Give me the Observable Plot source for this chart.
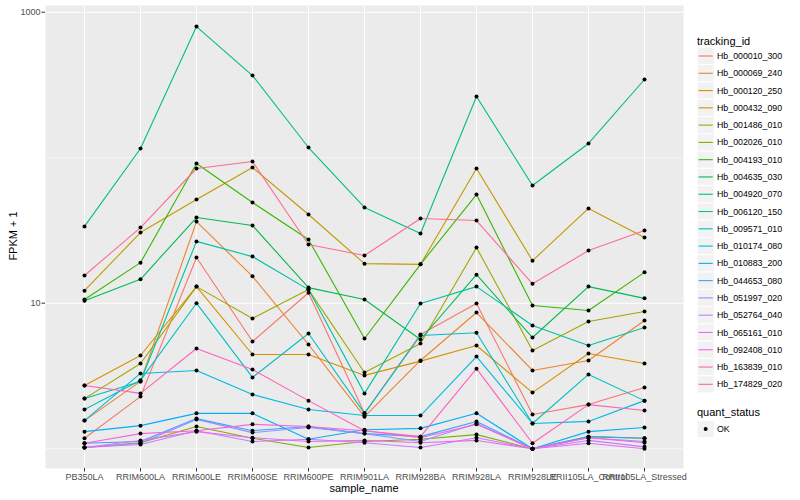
<!DOCTYPE html>
<html><head><meta charset="utf-8">
<script src="https://cdn.jsdelivr.net/npm/d3@7"></script>
<script src="https://cdn.jsdelivr.net/npm/@observablehq/plot@0.6"></script>
<style>
body{margin:0;background:#fff;font-family:"Liberation Sans",Arial,Helvetica,sans-serif;}
#wrap{position:relative;width:800px;height:500px;overflow:hidden;background:#fff;}
#chart{position:absolute;left:0;top:0;}
#legend{position:absolute;left:690px;top:0;}
.ttl{position:absolute;font-size:11px;line-height:12px;color:#000;white-space:nowrap;}
</style></head><body>
<div id="wrap">
  <div id="chart"></div>
  <svg id="legend" width="110" height="500"></svg>
  <div class="ttl" id="xt" style="left:364px;top:482px;transform:translateX(-50%);">sample_name</div>
  <div class="ttl" id="yt" style="left:13px;top:236px;transform:translate(-50%,-50%) rotate(-90deg);">FPKM + 1</div>
</div>
<script>
const samples = ["PB350LA","RRIM600LA","RRIM600LE","RRIM600SE","RRIM600PE","RRIM901LA","RRIM928BA","RRIM928LA","RRIM928LE","RRII105LA_Control","RRII105LA_Stressed"];
const trackingIds = ["Hb_000010_300","Hb_000069_240","Hb_000120_250","Hb_000432_090","Hb_001486_010","Hb_002026_010","Hb_004193_010","Hb_004635_030","Hb_004920_070","Hb_006120_150","Hb_009571_010","Hb_010174_080","Hb_010883_200","Hb_044653_080","Hb_051997_020","Hb_052764_040","Hb_065161_010","Hb_092408_010","Hb_163839_010","Hb_174829_020"];
const palette = ["#F8766D","#EA8331","#D89000","#C09B00","#A3A500","#7CAE00","#39B600","#00BB4E","#00BF7D","#00C1A3","#00BFC4","#00BAE0","#00B0F6","#35A2FF","#9590FF","#C77CFF","#E76BF3","#FA62DB","#FF62BC","#FF6C91"];
const quantStatus = ["OK"];

// FPKM + 1 values, one array per tracking_id, in sample order
const hb_000010_300 = [1.18, 2.28, 20.6, 5.45, 11.8, 1.75, 6.10, 9.95, 1.72, 2.01, 2.63];
const hb_000069_240 = [1.56, 2.90, 36.4, 15.3, 5.20, 1.66, 4.04, 8.63, 3.45, 4.04, 7.60];
const hb_000120_250 = [2.72, 4.37, 13.0, 4.44, 4.44, 3.19, 4.00, 5.12, 2.43, 4.51, 3.85];
const hb_000432_090 = [12.2, 30.6, 51.6, 85.6, 40.7, 18.7, 18.5, 84.3, 19.6, 44.8, 28.3];
const hb_001486_010 = [2.21, 3.85, 13.0, 7.85, 12.4, 3.34, 5.28, 24.1, 4.73, 7.48, 8.77];
const hb_002026_010 = [1.02, 1.10, 1.42, 1.18, 1.02, 1.12, 1.16, 1.25, 1.00, 1.21, 1.18];
const hb_004193_010 = [10.6, 19.0, 91.2, 49.2, 27.4, 5.72, 18.5, 55.8, 9.64, 8.91, 16.3];
const hb_004635_030 = [10.4, 14.6, 38.8, 34.2, 12.8, 10.6, 5.63, 15.7, 5.81, 13.0, 10.8];
const hb_004920_070 = [33.7, 115.7, 797, 367, 117.5, 45.5, 30.1, 263.5, 64.4, 125.3, 344.7];
const hb_006120_150 = [2.21, 2.90, 26.6, 20.9, 12.4, 2.40, 9.95, 13.0, 7.03, 5.12, 6.81];
const hb_009571_010 = [1.86, 2.95, 10.0, 3.09, 6.19, 1.75, 6.00, 6.26, 1.49, 3.24, 2.14];
const hb_010174_080 = [1.56, 3.29, 3.45, 2.36, 1.86, 1.69, 1.69, 4.30, 1.49, 1.54, 2.14];
const hb_010883_200 = [1.31, 1.44, 1.75, 1.75, 1.16, 1.35, 1.38, 1.75, 1.00, 1.31, 1.40];
const hb_044653_080 = [1.09, 1.12, 1.61, 1.33, 1.42, 1.27, 1.21, 1.54, 1.00, 1.21, 1.18];
const hb_051997_020 = [1.02, 1.09, 1.59, 1.29, 1.40, 1.27, 1.12, 1.49, 1.00, 1.19, 1.12];
const hb_052764_040 = [1.02, 1.07, 1.33, 1.12, 1.16, 1.10, 1.02, 1.19, 1.00, 1.14, 1.03];
const hb_065161_010 = [1.02, 1.14, 1.31, 1.19, 1.12, 1.14, 1.10, 1.14, 1.00, 1.09, 1.00];
const hb_092408_010 = [1.09, 1.27, 1.33, 1.47, 1.42, 1.33, 1.19, 1.47, 1.00, 1.19, 1.10];
const hb_163839_010 = [2.72, 2.40, 4.88, 3.50, 2.14, 1.33, 1.21, 3.55, 1.09, 2.01, 1.83];
const hb_174829_020 = [15.5, 33.1, 84.3, 94.2, 25.3, 21.3, 38.2, 37.0, 13.6, 23.0, 31.6];

const seriesValues = [hb_000010_300, hb_000069_240, hb_000120_250, hb_000432_090, hb_001486_010,
  hb_002026_010, hb_004193_010, hb_004635_030, hb_004920_070, hb_006120_150, hb_009571_010,
  hb_010174_080, hb_010883_200, hb_044653_080, hb_051997_020, hb_052764_040, hb_065161_010,
  hb_092408_010, hb_163839_010, hb_174829_020];

const rows = [];
trackingIds.forEach((id, i) => seriesValues[i].forEach((v, j) =>
  rows.push({tracking_id: id, sample_name: samples[j], fpkm1: v, quant_status: quantStatus[0]})));

const chart = Plot.plot({
  width: 690, height: 500,
  marginTop: 5, marginBottom: 32, marginLeft: 45, marginRight: 7,
  style: {fontFamily: '"Liberation Sans",Arial,Helvetica,sans-serif', fontSize: "8.8px", background: "transparent", overflow: "visible"},
  x: {type: "point", domain: samples, padding: 0.6, label: null},
  y: {type: "log", domain: [0.731, 1112], label: null},
  color: {domain: trackingIds, range: palette},
  marks: [
    Plot.frame({fill: "#ebebeb", stroke: "none"}),
    Plot.ruleY([1, 100], {stroke: "#ffffff", strokeWidth: 0.55}),
    Plot.ruleY([10, 1000], {stroke: "#ffffff", strokeWidth: 1.1}),
    Plot.ruleX(samples, {stroke: "#ffffff", strokeWidth: 1.1}),
    Plot.axisX({tickSize: 3.5, tickPadding: 1.2, stroke: "#333333", fill: "#4d4d4d", fontSize: 9, label: null}),
    Plot.axisY({ticks: [10, 1000], tickFormat: d => String(d), tickSize: 3.5, tickPadding: 1.5, stroke: "#333333", fill: "#4d4d4d", fontSize: 9, label: null}),
    Plot.line(rows, {x: "sample_name", y: "fpkm1", z: "tracking_id", stroke: "tracking_id", strokeWidth: 1.1}),
    Plot.dot(rows, {x: "sample_name", y: "fpkm1", r: 2, fill: "black", stroke: "none"})
  ]
});
document.getElementById("chart").appendChild(chart);

// Legend
const lg = d3.select("#legend");
const ff = '"Liberation Sans",Arial,Helvetica,sans-serif';
lg.append("text").attr("x", 7).attr("y", 41).attr("dy", "0.35em")
  .attr("font-family", ff).attr("font-size", 11).text("tracking_id");
const keyH = 17.28, firstC = 56;
trackingIds.forEach((id, i) => {
  const cy = firstC + i * keyH;
  lg.append("rect").attr("x", 7).attr("y", cy - keyH / 2).attr("width", keyH).attr("height", keyH)
    .attr("fill", "#f2f2f2").attr("stroke", "#ffffff").attr("stroke-width", 1);
  lg.append("line").attr("x1", 8.5).attr("x2", 7 + keyH - 1.5).attr("y1", cy).attr("y2", cy)
    .attr("stroke", palette[i]).attr("stroke-width", 1.1);
  lg.append("text").attr("x", 27).attr("y", cy).attr("dy", "0.35em")
    .attr("font-family", ff).attr("font-size", 8.8).text(id);
});
lg.append("text").attr("x", 7).attr("y", 412).attr("dy", "0.35em")
  .attr("font-family", ff).attr("font-size", 11).text("quant_status");
quantStatus.forEach((q, i) => {
  const cy = 429 + i * keyH;
  lg.append("rect").attr("x", 7).attr("y", cy - keyH / 2).attr("width", keyH).attr("height", keyH)
    .attr("fill", "#f2f2f2").attr("stroke", "#ffffff").attr("stroke-width", 1);
  lg.append("circle").attr("cx", 7 + keyH / 2).attr("cy", cy).attr("r", 2).attr("fill", "black");
  lg.append("text").attr("x", 27).attr("y", cy).attr("dy", "0.35em")
    .attr("font-family", ff).attr("font-size", 8.8).text(q);
});
</script>
</body></html>
